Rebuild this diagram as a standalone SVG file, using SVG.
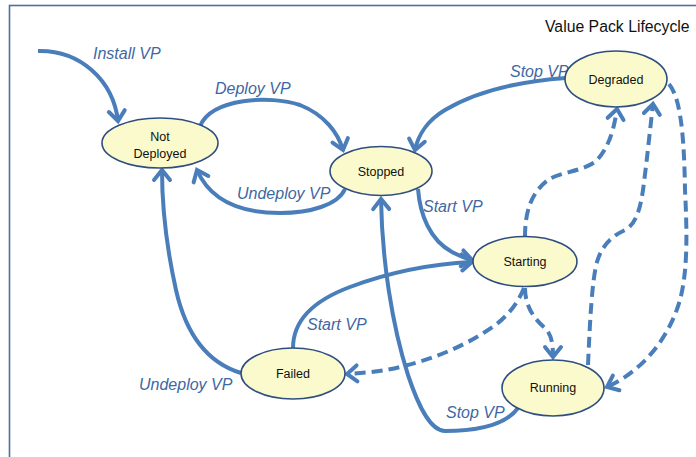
<svg xmlns="http://www.w3.org/2000/svg" width="696" height="457" viewBox="0 0 696 457">
<style>
.edge{fill:none;stroke:#4a7ebb;stroke-width:4;stroke-linecap:butt}
.dash{stroke-dasharray:11 6}
.node ellipse{fill:#fafacc;stroke:#2f4e80;stroke-width:1.6}
.node text{font-family:"Liberation Sans",Arial,sans-serif;font-size:12.5px;fill:#111;text-anchor:middle}
.lbl{font-family:"Liberation Sans",Arial,sans-serif;font-size:16px;font-style:italic;fill:#3e67a3}
.title{font-family:"Liberation Sans",Arial,sans-serif;font-size:15.8px;fill:#111}
</style>
<defs>
<marker id="arr" viewBox="-14 -11 18 22" refX="0" refY="0" markerWidth="18" markerHeight="22" markerUnits="userSpaceOnUse" orient="auto">
<path d="M-10,-8 L0,0 L-10,8" fill="none" stroke="#4a7ebb" stroke-width="4" stroke-linecap="round" stroke-linejoin="miter"/>
</marker>
</defs>
<rect x="9.5" y="5.5" width="720" height="480" fill="#fff" stroke="#4f6fa0" stroke-width="1.6"/>
<text class="title" x="545" y="32">Value Pack Lifecycle</text>
<g id="connectors">
<path class="edge" marker-end="url(#arr)" d="M38,51 C80,50 113,80 118,121"/>
<path class="edge" marker-end="url(#arr)" d="M200,126 C212,98 270,95 300,105 C325,115 338,133 343,150"/>
<path class="edge" marker-end="url(#arr)" d="M345,189 C338,205 310,213 280,213 C240,213 210,200 197,170"/>
<path class="edge" marker-end="url(#arr)" d="M241,373 C205,362 185,330 176,290 C166,245 162,200 162,170"/>
<path class="edge" marker-end="url(#arr)" d="M293,348 C293,320 315,300 350,287 C390,272 430,264 472,262"/>
<path class="edge" marker-end="url(#arr)" d="M418,189 C420,215 430,240 452,252 C460,256 466,259 472,260"/>
<path class="edge" marker-end="url(#arr)" d="M518,408 C505,426 475,431 445,431 C430,431 418,405 408,375 C392,325 382,260 381,199"/>
<path class="edge" marker-end="url(#arr)" d="M566,78 C510,82 470,95 445,110 C428,120 418,135 415,150"/>
<path class="edge dash" marker-end="url(#arr)" d="M525,237 C525,210 532,192 548,180 C560,172 580,172 595,162 C608,150 614,130 617,109"/>
<path class="edge dash" marker-end="url(#arr)" d="M588,365 C590,320 592,280 597,262 C602,245 612,236 625,230 C636,224 640,210 643,190 C647,160 650,130 653,104"/>
<path class="edge dash" marker-end="url(#arr)" d="M669,84 C678,95 684,120 685,190 C687,230 688,270 680,300 C670,335 645,370 607,387"/>
<path class="edge dash" marker-end="url(#arr)" d="M524,288 C515,310 500,323 485,332 C460,348 430,360 400,367 C385,371 365,373 347,374"/>
<path class="edge dash" marker-end="url(#arr)" d="M525,288 C525,305 533,318 545,328 C552,335 553,345 553,357"/>
</g>
<g id="labels">
<text class="lbl" x="93" y="59">Install VP</text>
<text class="lbl" x="215" y="94">Deploy VP</text>
<text class="lbl" x="237" y="199">Undeploy VP</text>
<text class="lbl" x="139" y="390">Undeploy VP</text>
<text class="lbl" x="307" y="330">Start VP</text>
<text class="lbl" x="423" y="212">Start VP</text>
<text class="lbl" x="510" y="77">Stop VP</text>
<text class="lbl" x="446" y="418">Stop VP</text>
</g>
<g id="node-not-deployed" class="node"><ellipse cx="160" cy="143" rx="58" ry="25"/><text x="160" y="140.5">Not</text><text x="160" y="157.5">Deployed</text></g>
<g id="node-stopped" class="node"><ellipse cx="381" cy="171" rx="51" ry="24.5"/><text x="381" y="175.5">Stopped</text></g>
<g id="node-degraded" class="node"><ellipse cx="616" cy="79" rx="51" ry="28"/><text x="616" y="84">Degraded</text></g>
<g id="node-starting" class="node"><ellipse cx="525" cy="261.5" rx="52" ry="25"/><text x="525" y="266">Starting</text></g>
<g id="node-running" class="node"><ellipse cx="553" cy="388" rx="51" ry="28"/><text x="553" y="392">Running</text></g>
<g id="node-failed" class="node"><ellipse cx="293" cy="373.5" rx="52" ry="25.5"/><text x="293" y="377.5">Failed</text></g>
</svg>
